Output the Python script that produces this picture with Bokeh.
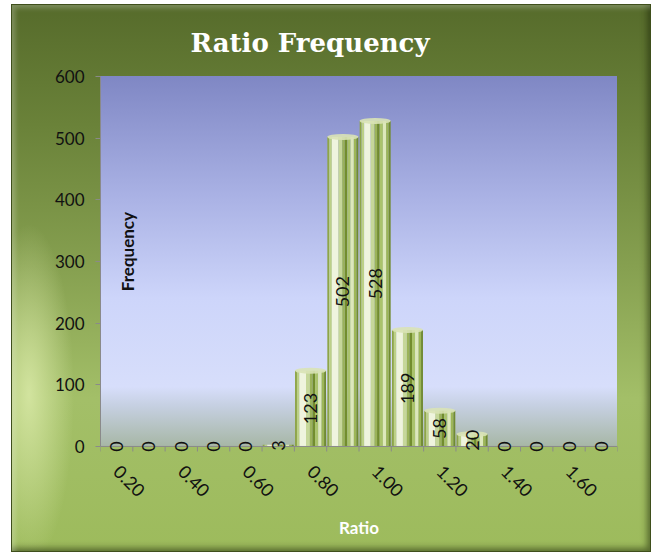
import math
from bokeh.plotting import figure
from bokeh.models import ColumnDataSource, FixedTicker, LabelSet, Label, Range1d, Span
from bokeh.transform import dodge
from bokeh.core.properties import value
from bokeh.embed import file_html
from bokeh.resources import INLINE

# ---- data ----
categories = ["0.20", "0.30", "0.40", "0.50", "0.60", "0.70", "0.80", "0.90",
              "1.00", "1.10", "1.20", "1.30", "1.40", "1.50", "1.60", "1.70"]
frequency = [0, 0, 0, 0, 0, 3, 123, 502, 528, 189, 58, 20, 0, 0, 0, 0]
y_ticks = [0, 100, 200, 300, 400, 500, 600]
chart_title = "Ratio Frequency"
x_title = "Ratio"
y_title = "Frequency"

idx = list(range(len(categories)))
src = ColumnDataSource(dict(
    x=idx,
    top=frequency,
    half=[v / 2 for v in frequency],
    label=[str(v) for v in frequency],
))
cap_src = ColumnDataSource(dict(
    x=[i for i, v in zip(idx, frequency) if v >= 10],
    top=[v for v in frequency if v >= 10],
))
boundaries = [i - 0.5 for i in range(len(categories) + 1)]

# ---- styling ----
frame_bg = (
    "linear-gradient(to bottom, #7f87c4 0%, #a9b1e4 32%, #cdd5fa 60%, #d7defb 84%, "
    "#c6d0e2 89%, #a7b7a6 100%) 89px 72px / 517px 370px no-repeat, "
    "radial-gradient(ellipse 45px 170px at 18px 390px, rgba(218,234,168,0.85), rgba(218,234,168,0)), "
    "linear-gradient(to bottom, #566b2b 0%, #6a8239 22%, #86a050 48%, #a3bf68 72%, #9dbb5c 100%)"
)
styles = {
    "background": frame_bg,
    "box-shadow": "inset 0 0 0 1px #3f4f1c, inset 4px 4px 5px rgba(255,255,255,0.25), "
                  "inset -4px -4px 6px rgba(30,40,10,0.55)",
}

# plot area extends ~12px below zero so the zero labels and ticks are not clipped
y_pad = 19.5
p = figure(frame_width=517, frame_height=382,
           x_range=Range1d(-0.5, len(categories) - 0.5), y_range=Range1d(-y_pad, 600),
           output_backend="svg", toolbar_location=None,
           min_border_left=89, min_border_right=34, min_border_top=72, min_border_bottom=94,
           background_fill_alpha=0, border_fill_alpha=0, outline_line_color=None,
           margin=(4, 0, 0, 11), styles=styles)
p.xgrid.visible = False
p.ygrid.visible = False

grey = "#8a8a8a"
# category axis line at zero with tick marks between categories
p.add_layout(Span(location=0, dimension="width", line_color=grey, line_width=1))
p.segment(x0=boundaries, y0=[0] * len(boundaries), x1=boundaries,
          y1=[-y_pad * 5 / 12] * len(boundaries), line_color=grey, line_width=1)

# cylinder stripes (left frac, right frac, colour)
stripes = [
    (-0.48, -0.42, "#8ea548"),
    (-0.42, -0.34, "#bcd088"),
    (-0.34, -0.14, "#eff4de"),
    (-0.14, -0.02, "#c6d79a"),
    (-0.02, 0.06, "#9bb35a"),
    (0.06, 0.14, "#728d2e"),
    (0.14, 0.24, "#aac36c"),
    (0.24, 0.34, "#dde8bb"),
    (0.34, 0.42, "#9db658"),
    (0.42, 0.48, "#718b32"),
]
for l, r, c in stripes:
    p.vbar(x=dodge("x", (l + r) / 2, range=p.x_range), width=r - l, top="top", bottom=0,
           source=src, fill_color=c, line_color=None)
p.ellipse(x="x", y="top", width=0.96, height=6, height_units="screen", source=cap_src,
          fill_color="#d9e3b6", fill_alpha=0.9, line_color=None)

labels = LabelSet(x="x", y="half", text="label", source=src, angle=math.pi / 2,
                  text_align="center", text_baseline="middle",
                  text_font=value("Lato"), text_font_size=value("18px"), text_color="#111111")
p.add_layout(labels)

# axes
p.yaxis.ticker = FixedTicker(ticks=y_ticks)
p.yaxis.bounds = (0, 600)
p.yaxis.axis_line_color = grey
p.yaxis.major_tick_line_color = grey
p.yaxis.major_tick_out = 5
p.yaxis.major_tick_in = 0
p.yaxis.minor_tick_out = 0
p.yaxis.major_label_text_font = "Lato"
p.yaxis.major_label_text_font_size = "17px"
p.yaxis.major_label_text_color = "#111111"
p.yaxis.major_label_standoff = 11

p.xaxis.ticker = FixedTicker(ticks=idx[::2])
p.xaxis.major_label_overrides = {i: categories[i] for i in idx[::2]}
p.xaxis.axis_line_color = None
p.xaxis.major_tick_out = 0
p.xaxis.major_tick_in = 0
p.xaxis.minor_tick_out = 0
p.xaxis.minor_tick_in = 0
p.xaxis.major_label_orientation = -math.pi / 4
p.xaxis.major_label_text_font = "Lato"
p.xaxis.major_label_text_font_size = "18px"
p.xaxis.major_label_text_color = "#111111"
p.xaxis.major_label_standoff = 10
p.xaxis.axis_label = x_title
p.xaxis.axis_label_text_font = "Lato"
p.xaxis.axis_label_text_font_size = "17px"
p.xaxis.axis_label_text_font_style = "bold"
p.xaxis.axis_label_text_color = "white"
p.xaxis.axis_label_standoff = 11

# title
p.title.text = chart_title
p.title.align = "left"
p.title.offset = 90
p.title.vertical_align = "bottom"
p.title.standoff = 38
p.title.text_font = "DejaVu Serif"
p.title.text_font_size = "26px"
p.title.text_font_style = "bold"
p.title.text_color = "white"

p.add_layout(Label(x=0.34, y=316, text=y_title, angle=math.pi / 2, text_align="center",
                   text_baseline="middle", text_font="Lato", text_font_size="17px",
                   text_font_style="bold", text_color="#111111"))

open("out.html", "w").write(file_html(p, INLINE))
